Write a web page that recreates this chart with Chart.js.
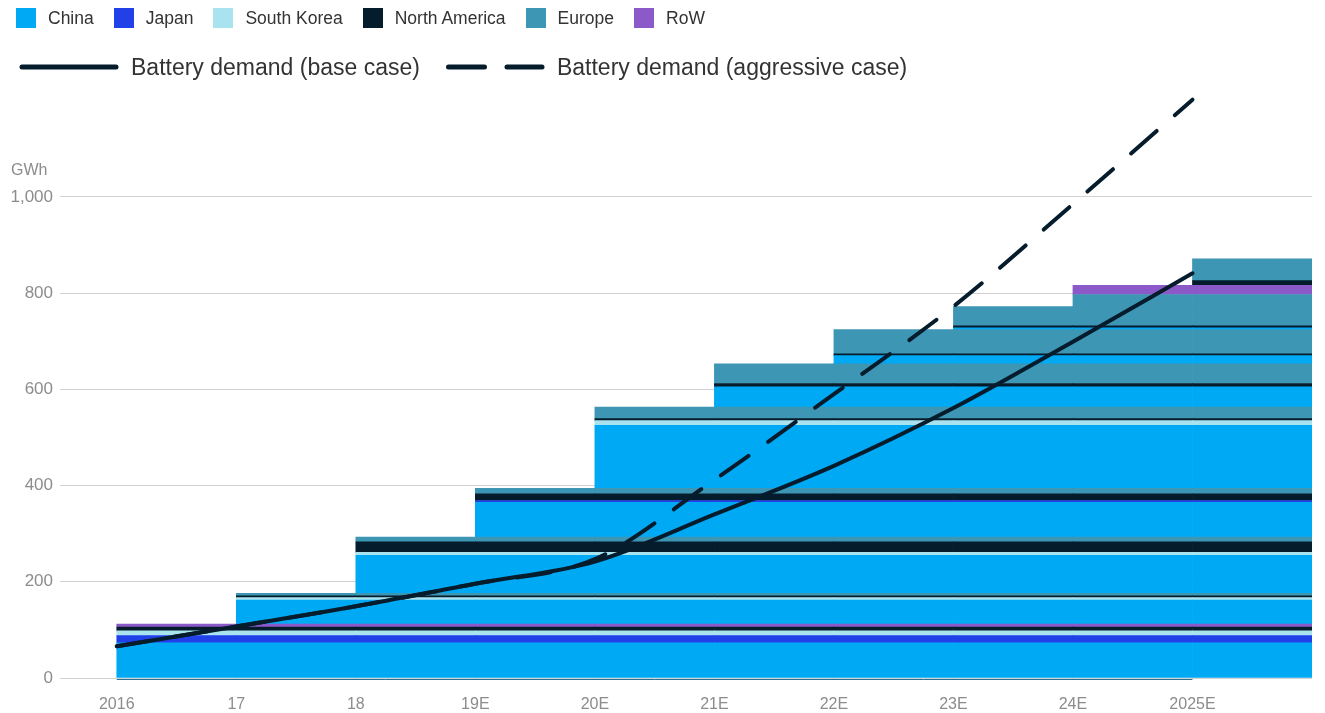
<!DOCTYPE html>
<html>
<head>
<meta charset="utf-8">
<title>Battery cell capacity vs demand</title>
<script src="https://cdn.jsdelivr.net/npm/chart.js@4.4.0/dist/chart.umd.min.js"></script>
<style>
  body { margin: 0; background: #fff; font-family: "Liberation Sans", Arial, sans-serif; }
  #wrap { position: relative; width: 1325px; height: 713px; }
  #chart { position: absolute; left: 0; top: 0; }
  .row { position: absolute; left: 16px; display: flex; align-items: center; color: #333; white-space: nowrap; }
  #row1 { top: 8px; height: 20px; font-size: 17.5px; }
  #row2 { top: 52px; height: 30px; left: 19px; font-size: 23px; }
  .box { width: 20px; height: 20px; margin-right: 12px; }
  .item { display: flex; align-items: center; margin-right: 20px; }
</style>
</head>
<body>
<div id="wrap">
  <canvas id="chart" width="1325" height="713"></canvas>
  <div class="row" id="row1"></div>
  <div class="row" id="row2">
    <svg width="100" height="10" style="margin-right:12px"><line x1="3" y1="5" x2="97" y2="5" stroke="#051C2C" stroke-width="5" stroke-linecap="round"/></svg>
    <span style="margin-right:23px">Battery demand (base case)</span>
    <svg width="104" height="10" style="margin-right:10px"><line x1="5.5" y1="5" x2="99" y2="5" stroke="#051C2C" stroke-width="5" stroke-linecap="round" stroke-dasharray="36 22.5"/></svg>
    <span>Battery demand (aggressive case)</span>
  </div>
</div>
<script>
const years = ['2016', '17', '18', '19E', '20E', '21E', '22E', '23E', '24E', '2025E'];

// capacity added in each year (GWh), split by region
const china        = [73, 50, 79, 72, 131, 42, 17, 4, 0, 0];
const japan        = [15, 0, 0, 4, 0, 0, 0, 0, 0, 0];
const southKorea   = [10, 5, 6, 0, 10, 0, 0, 0, 0, 0];
const northAmerica = [8, 4, 22, 14, 4, 7, 4, 4, 0, 10];
const europe       = [0, 5, 10, 11, 24, 41, 50, 40, 25, 45];
const restOfWorld  = [6, 0, 0, 0, 0, 0, 0, 0, 19, 0];

// demand curves (GWh)
const demandBase       = [66, 107, 149, 196, 242, 340, 441, 561, 699, 841];
const demandAggressive = [66, 107, 149, 196, 247, 412, 590, 772, 985, 1202];

const yTicks = [0, 200, 400, 600, 800, 1000];

const regions = [
  { name: 'China', values: china, color: '#00A9F4' },
  { name: 'Japan', values: japan, color: '#2140E8' },
  { name: 'South Korea', values: southKorea, color: '#AAE3F0' },
  { name: 'North America', values: northAmerica, color: '#051C2C' },
  { name: 'Europe', values: europe, color: '#3C96B4' },
  { name: 'RoW', values: restOfWorld, color: '#8C5AC8' }
];

// legend row with the colour boxes
const row1 = document.getElementById('row1');
regions.forEach(r => {
  const item = document.createElement('div');
  item.className = 'item';
  item.innerHTML = '<div class="box" style="background:' + r.color + '"></div><span>' + r.name + '</span>';
  row1.appendChild(item);
});

const FONT = '"Liberation Sans", Arial, sans-serif';
Chart.defaults.font.family = FONT;

const datasets = [
  {
    type: 'line', label: 'Battery demand (base case)',
    data: years.map((_, i) => ({ x: i, y: demandBase[i] })),
    borderColor: '#051C2C', borderWidth: 4, borderCapStyle: 'round',
    pointRadius: 0, cubicInterpolationMode: 'monotone', fill: false,
    stack: 'base', order: 0
  },
  {
    type: 'line', label: 'Battery demand (aggressive case)',
    data: years.map((_, i) => ({ x: i, y: demandAggressive[i] })),
    borderColor: '#051C2C', borderWidth: 4, borderCapStyle: 'round', borderDash: [34, 24],
    pointRadius: 0, cubicInterpolationMode: 'monotone', fill: false,
    stack: 'aggressive', order: 0
  }
];

// each year's additions start at that year and run on to the last column
years.forEach((yr, i) => {
  regions.forEach(r => {
    const v = r.values[i];
    if (!v) return;
    datasets.push({
      type: 'bar',
      label: r.name + ' ' + yr,
      data: years.slice(i).map((_, k) => ({ x: i + k + 0.5, y: v })),
      backgroundColor: r.color,
      borderWidth: 0,
      barPercentage: 1,
      categoryPercentage: 1,
      order: 1
    });
  });
});

const axisNote = {
  id: 'axisNote',
  afterDraw(chart) {
    const { ctx, scales: { x, y } } = chart;
    ctx.save();
    ctx.fillStyle = '#8c8c8c';
    ctx.font = '16px ' + FONT;
    ctx.textBaseline = 'middle';
    ctx.textAlign = 'left';
    ctx.fillText('GWh', 11, y.getPixelForValue(1000) - 26);
    ctx.strokeStyle = '#2E6F8E';
    ctx.lineWidth = 1;
    ctx.beginPath();
    ctx.moveTo(x.getPixelForValue(0), y.bottom + 1.5);
    ctx.lineTo(x.getPixelForValue(9), y.bottom + 1.5);
    ctx.stroke();
    ctx.restore();
  }
};

new Chart(document.getElementById('chart'), {
  type: 'bar',
  data: { datasets },
  plugins: [axisNote],
  options: {
    responsive: false,
    animation: false,
    events: [],
    layout: { padding: { top: 91, right: 13, left: 0, bottom: 0 } },
    plugins: { legend: { display: false }, tooltip: { enabled: false } },
    scales: {
      x: {
        type: 'linear',
        min: -0.475,
        max: 10,
        offset: false,
        stacked: true,
        grid: { display: false },
        border: { display: false },
        afterBuildTicks: s => { s.ticks = years.map((_, i) => ({ value: i })); },
        afterFit: s => { s.height = 35; },
        ticks: {
          autoSkip: false, maxRotation: 0, padding: 9,
          color: '#8c8c8c', font: { size: 16 },
          callback: v => years[v]
        }
      },
      y: {
        stacked: true,
        min: 0,
        max: 1220,
        z: 1,
        afterBuildTicks: s => { s.ticks = yTicks.map(v => ({ value: v })); },
        afterFit: s => { s.width = 60; },
        grid: { color: 'rgba(205,205,205,0.9)', lineWidth: 1, drawTicks: false },
        border: { display: false },
        ticks: {
          padding: 7, color: '#8c8c8c', font: { size: 17 },
          callback: v => v.toLocaleString('en-US')
        }
      }
    }
  }
});
</script>
</body>
</html>
